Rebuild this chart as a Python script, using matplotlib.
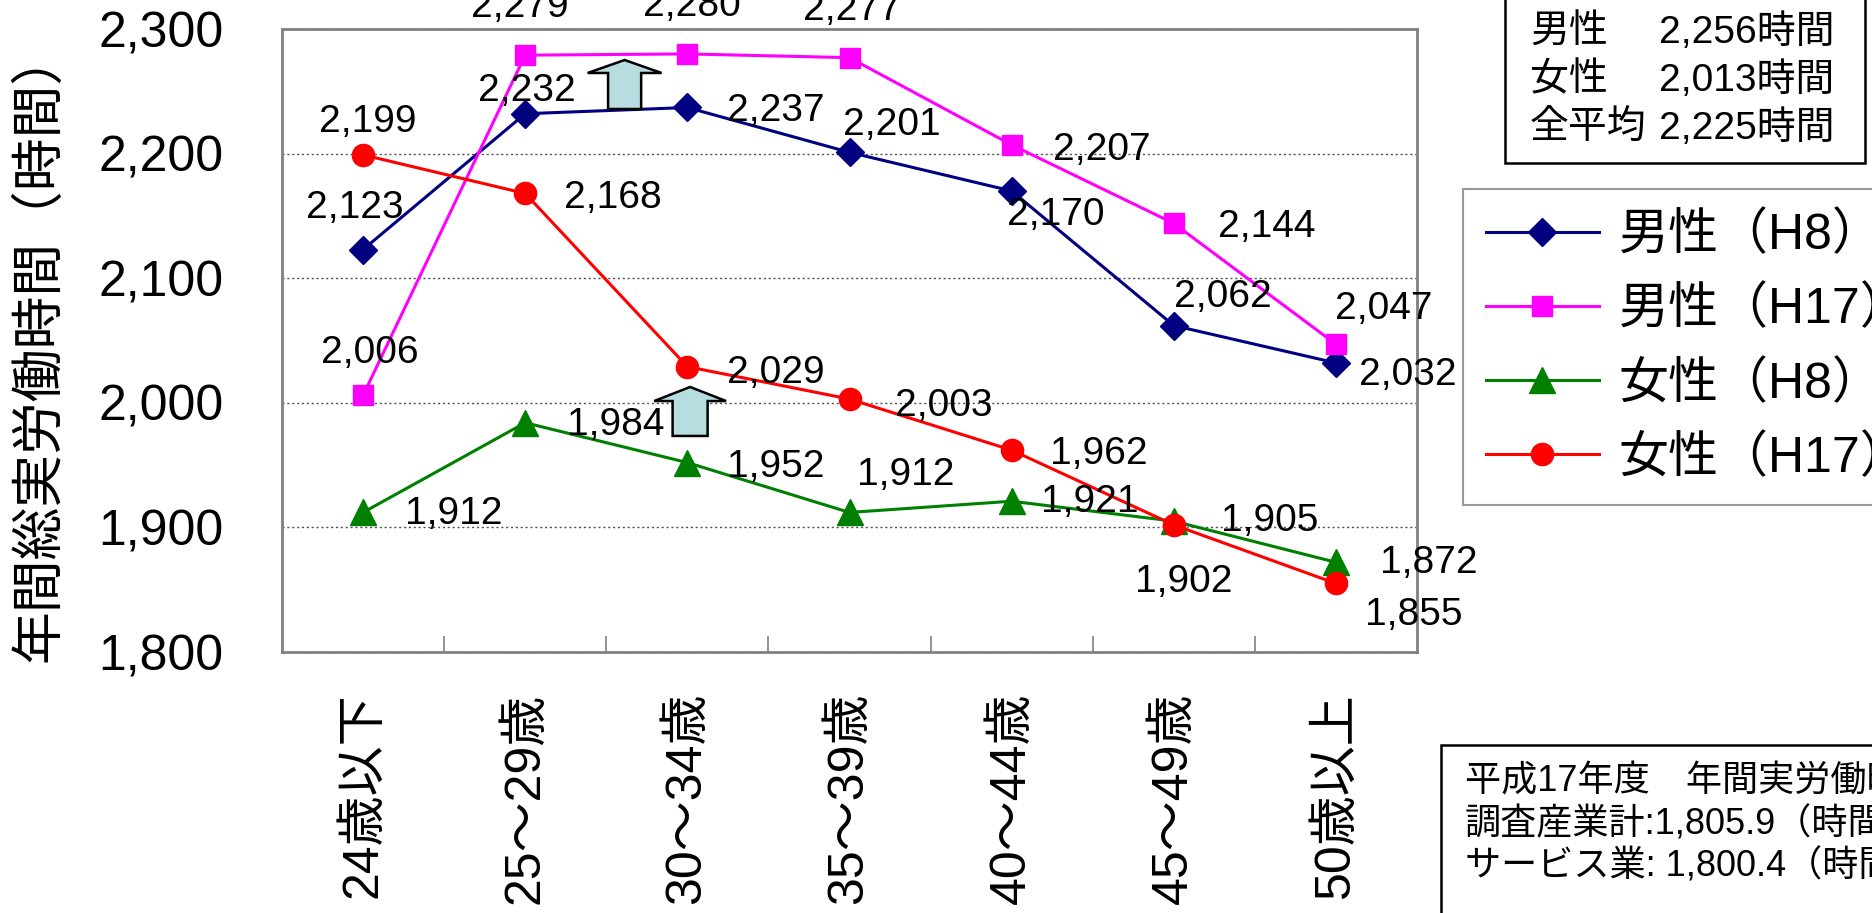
import matplotlib
matplotlib.use("Agg")
import matplotlib.pyplot as plt
from matplotlib.patches import FancyArrow, Rectangle

plt.rcParams['font.family'] = ['Liberation Sans', 'Noto Sans CJK JP', 'DejaVu Sans']

# ---- data -------------------------------------------------------------
age_groups = ["24歳以下", "25～29歳", "30～34歳", "35～39歳", "40～44歳", "45～49歳", "50歳以上"]
series_names = ["男性（H8）", "男性（H17）", "女性（H8）", "女性（H17）"]
male_h8 = [2123, 2232, 2237, 2201, 2170, 2062, 2032]
male_h17 = [2006, 2279, 2280, 2277, 2207, 2144, 2047]
female_h8 = [1912, 1984, 1952, 1912, 1921, 1905, 1872]
female_h17 = [2199, 2168, 2029, 2003, 1962, 1902, 1855]
y_ticks = [1800, 1900, 2000, 2100, 2200, 2300]

avg_labels = ["男性", "女性", "全平均"]
avg_values = ["2,256時間", "2,013時間", "2,225時間"]
note_lines = ["平成17年度　年間実労働時間",
              "調査産業計:1,805.9（時間）",
              "サービス業: 1,800.4（時間）"]

# ---- styles -----------------------------------------------------------
colors = ["#000080", "#FF00FF", "#008000", "#FF0000"]
markers = ["D", "s", "^", "o"]
msizes = [14, 15, 19, 16]
# label offsets (pixels, x right / y up) for each point of each series
offsets = [
    [(-8, 42), (2, 23), (88, -4), (42, 27), (44, -24), (49, 29), (72, -12)],
    [(7, 42), (-5, 48), (5, 48), (2, 48), (90, -5), (93, -4), (48, 35)],
    [(91, -2), (91, -2), (88, -4), (56, 37), (78, -1), (96, 0), (93, -1)],
    [(5, 33), (88, -5), (88, -6), (94, -7), (87, -4), (10, -57), (78, -32)],
]

W, H = 1872, 913
fig = plt.figure(figsize=(W / 100, H / 100), dpi=100)
ax = fig.add_axes([282 / W, 1 - 652 / H, (1417 - 282) / W, (652 - 29) / H])

x = list(range(len(age_groups)))
all_series = [male_h8, male_h17, female_h8, female_h17]
for vals, name, c, m, ms in zip(all_series, series_names, colors, markers, msizes):
    ax.plot(x, vals, color=c, lw=2.2, marker=m, markersize=ms,
            markerfacecolor=c, markeredgecolor=c, label=name, zorder=3,
            clip_on=False)

for vals, offs in zip(all_series, offsets):
    for xi, v, (dx, dy) in zip(x, vals, offs):
        ax.annotate(f"{v:,}", (xi, v), xytext=(dx, dy), textcoords="offset pixels",
                    ha="center", va="center", fontsize=28, color="black", zorder=5)

# up-arrows marking the change between surveys
arrow_style = dict(facecolor="#b8dde1", edgecolor="black", linewidth=1.8,
                   length_includes_head=True, zorder=4)
ax.add_patch(FancyArrow(1.613, 2235.8, 0, 39.3, width=0.204, head_width=0.456,
                        head_length=10.4, **arrow_style))
ax.add_patch(FancyArrow(2.017, 1973.4, 0, 39.3, width=0.216, head_width=0.444,
                        head_length=11.3, **arrow_style))

ax.set_xlim(-0.5, len(age_groups) - 0.5)
ax.set_ylim(y_ticks[0], y_ticks[-1])
ax.set_yticks(y_ticks)
ax.set_yticklabels([f"{v:,}" for v in y_ticks], fontsize=36)
ax.tick_params(axis="y", length=0, pad=42)
ax.set_xticks(x)
ax.set_xticklabels(age_groups, rotation=90, fontsize=36)
ax.tick_params(axis="x", which="major", length=0, pad=29)
ax.set_xticks([i + 0.5 for i in x[:-1]], minor=True)
ax.tick_params(axis="x", which="minor", direction="in", length=11.5, width=1.2,
               color="#808080")
ax.grid(axis="y", linestyle=(0, (1.5, 2)), color="#505050", lw=1.0, zorder=1)
for s in ax.spines.values():
    s.set_color("#808080")
    s.set_linewidth(2.0)

fig.text(40 / W, 1 - 345 / H, "年間総実労働時間（時間）", rotation=90,
         ha="center", va="center", fontsize=38)

leg = ax.legend(loc="upper left", bbox_to_anchor=(1463 / W, 1 - 189 / H),
                bbox_transform=fig.transFigure, fontsize=36, frameon=True,
                fancybox=False, edgecolor="#808080", borderaxespad=0,
                handlelength=2.25, handletextpad=0.4, labelspacing=0.53,
                borderpad=0.46, numpoints=1)
leg.get_frame().set_linewidth(1.5)

# average-hours box (top right)
fig.add_artist(Rectangle((1505 / W, 1 - 163 / H), (1865 - 1505) / W, 170 / H,
                         transform=fig.transFigure, facecolor="white",
                         edgecolor="black", lw=1.8))
for i, (lab, val) in enumerate(zip(avg_labels, avg_values)):
    yc = 1 - (32 + 48 * i) / H
    fig.text(1530 / W, yc, lab, ha="left", va="center", fontsize=28)
    fig.text(1659 / W, yc, val, ha="left", va="center", fontsize=28)

# annual hours note (bottom right)
fig.add_artist(Rectangle((1441 / W, -0.05), 0.3, 1 - 745 / H + 0.05,
                         transform=fig.transFigure, facecolor="white",
                         edgecolor="black", lw=1.8))
for i, line in enumerate(note_lines):
    fig.text(1465 / W, 1 - (782 + 42.5 * i) / H, line, ha="left", va="center",
             fontsize=26)

fig.savefig("out.png", dpi=100)
